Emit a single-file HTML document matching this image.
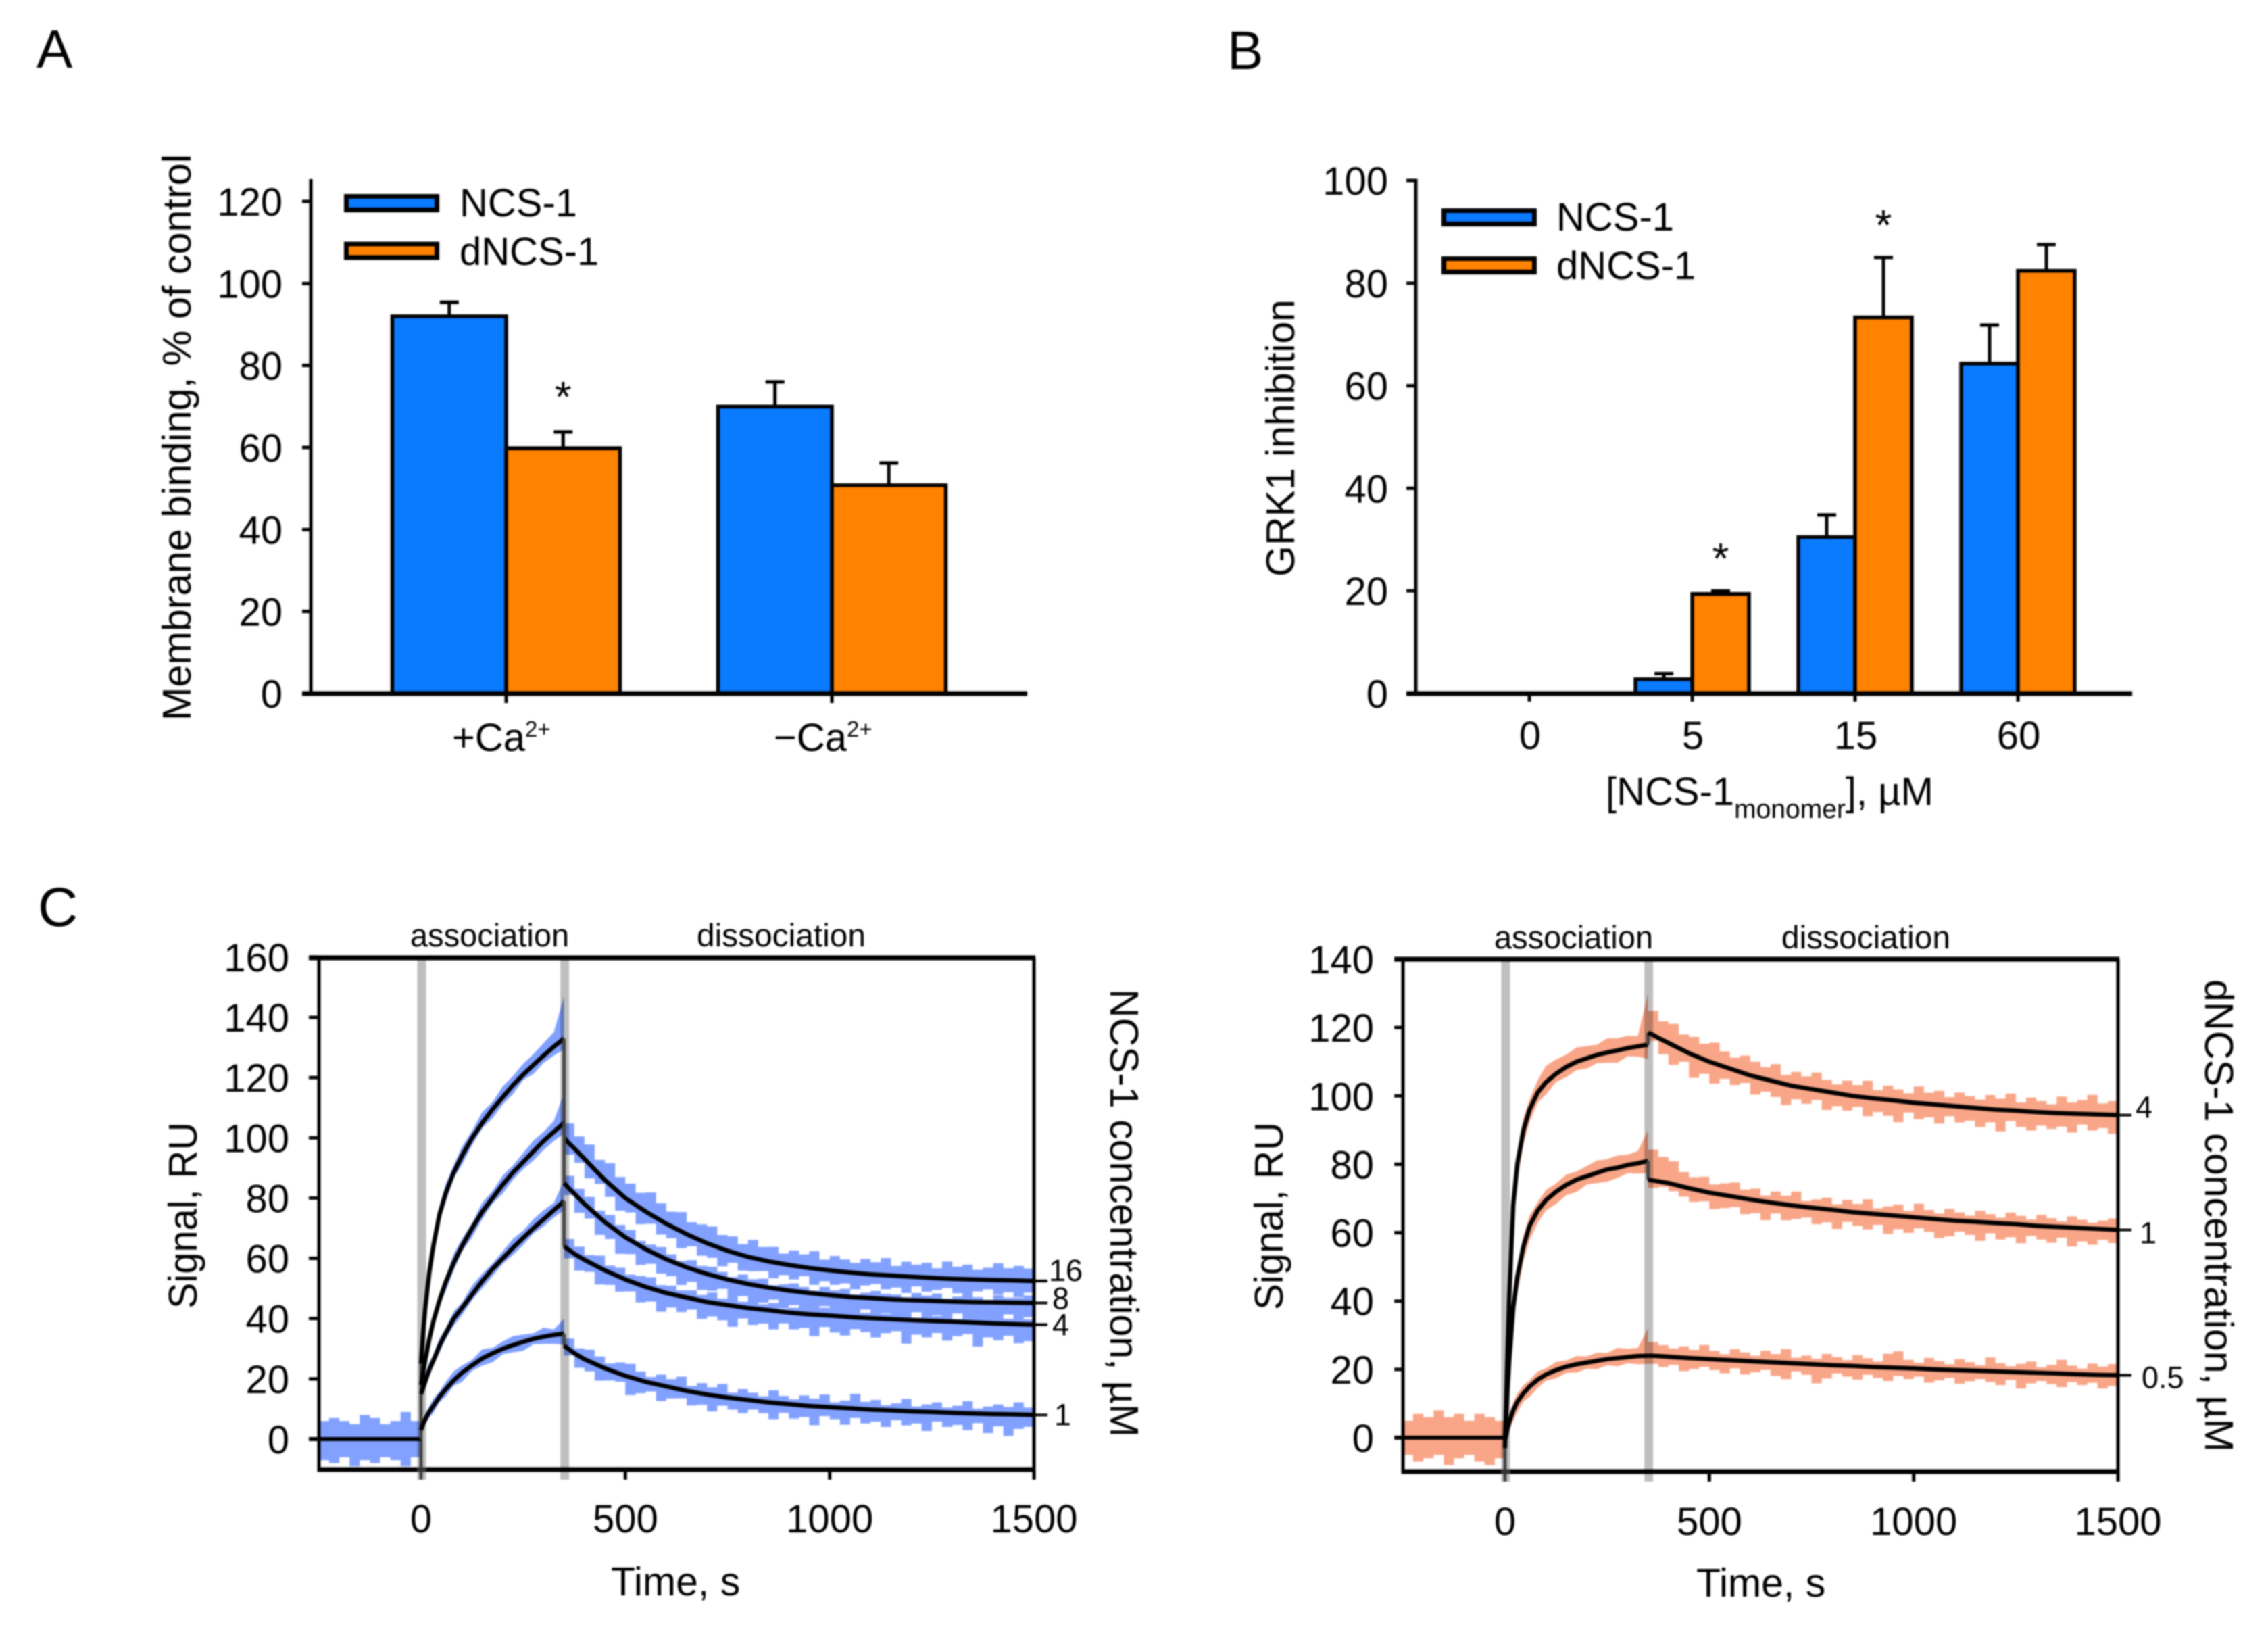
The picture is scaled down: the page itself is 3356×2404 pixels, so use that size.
<!DOCTYPE html>
<html lang="en">
<head>
<meta charset="utf-8">
<title>NCS-1 and dNCS-1 binding and inhibition</title>
<style>
html,body{margin:0;padding:0;background:#fff;}
svg{display:block;filter:blur(1px);}
text{font-family:"Liberation Sans",Arial,sans-serif;fill:#000;}
</style>
</head>
<body>
<svg id="figure" xmlns="http://www.w3.org/2000/svg" width="3356" height="2404" viewBox="0 0 3356 2404">
<rect width="3356" height="2404" fill="#fff"/>
<text x="54" y="100" font-size="80">A</text>
<text x="1816" y="102" font-size="80">B</text>
<text x="56" y="1370" font-size="82">C</text>

<text transform="translate(282,1066) rotate(-90)" font-size="59" textLength="838" lengthAdjust="spacingAndGlyphs">Membrane binding, % of control</text>
<text transform="translate(1915,853) rotate(-90)" font-size="59" textLength="410" lengthAdjust="spacingAndGlyphs">GRK1 inhibition</text>
<text x="2376" y="1191" font-size="58">[NCS-1<tspan font-size="39" dy="19">monomer</tspan><tspan dy="-19">], µM</tspan></text>

<text transform="translate(291,1936) rotate(-90)" font-size="59" textLength="276" lengthAdjust="spacingAndGlyphs">Signal, RU</text>
<text x="904" y="2360" font-size="59">Time, s</text>
<text transform="translate(1643,1463) rotate(90)" font-size="59" textLength="663" lengthAdjust="spacingAndGlyphs">NCS-1 concentration, µM</text>
<text x="607" y="1400" font-size="47">association</text>
<text x="1031" y="1400" font-size="47" textLength="250" lengthAdjust="spacingAndGlyphs">dissociation</text>

<text transform="translate(1898,1938) rotate(-90)" font-size="59" textLength="278" lengthAdjust="spacingAndGlyphs">Signal, RU</text>
<text x="2510" y="2362" font-size="59">Time, s</text>
<text transform="translate(3263,1449) rotate(90)" font-size="59" textLength="699" lengthAdjust="spacingAndGlyphs">dNCS-1 concentration, µM</text>
<text x="2211" y="1403" font-size="47">association</text>
<text x="2636" y="1403" font-size="47" textLength="250" lengthAdjust="spacingAndGlyphs">dissociation</text>
</svg>

<script>
// ---------- Panel A data ----------
const aCategories = ['+Ca', '−Ca'];
const aNcs = [92, 70];
const aNcsErr = [95.4, 76];
const aDncs = [59.8, 50.8];
const aDncsErr = [63.8, 56.2];
const aStars = [1, 0];
const aTicks = [0, 20, 40, 60, 80, 100, 120];

// ---------- Panel B data ----------
const bCategories = ['0', '5', '15', '60'];
const bNcs = [0, 2.8, 30.5, 64.3];
const bNcsErr = [0, 3.9, 34.8, 71.8];
const bDncs = [0, 19.4, 73.3, 82.4];
const bDncsErr = [0, 20, 85, 87.5];
const bStars = [0, 1, 1, 0];
const bTicks = [0, 20, 40, 60, 80, 100];

// ---------- Panel C shared axes ----------
const xTicksC = [0, 500, 1000, 1500];
const yTicksC1 = [0, 20, 40, 60, 80, 100, 120, 140, 160];
const yTicksC2 = [0, 20, 40, 60, 80, 100, 120, 140];
const phaseMarkers = [0, 350];
const baselineTimes = [-250, -225, -200, -175, -150, -125, -100, -75, -50, -25, 0];
const assocTimes = [0, 5, 10, 20, 30, 45, 60, 80, 100, 125, 150, 175, 200, 225, 250, 275, 300, 325, 350];
const dissTimes = [350, 360, 375, 400, 450, 500, 550, 600, 650, 700, 750, 800, 850, 900, 950, 1000, 1050, 1100, 1150, 1200, 1250, 1300, 1350, 1400, 1450, 1500];
const dissNoiseTimes = [350, 375, 400, 425, 450, 475, 500, 525, 550, 575, 600, 625, 650, 675, 700, 725, 750, 775, 800, 825, 850, 875, 900, 925, 950, 975, 1000, 1025, 1050, 1075, 1100, 1125, 1150, 1175, 1200, 1225, 1250, 1275, 1300, 1325, 1350, 1375, 1400, 1425, 1450, 1475, 1500];

// ---------- Panel C1 (NCS-1) fits, RU ----------
const c1Fit16Assoc = [25, 35, 43, 55, 64, 74.5, 81.5, 88.5, 94, 100, 105, 109.5, 113.5, 117.5, 121, 124.2, 127.3, 130.3, 133];
const c1Fit16Diss = [100, 98.5, 96.5, 93, 86, 80, 75.5, 71.5, 68, 65, 62.5, 60.5, 59, 57.8, 56.8, 56, 55.3, 54.7, 54.3, 53.9, 53.5, 53.2, 53, 52.8, 52.7, 52.5];
const c1Fit8Assoc = [18, 22, 26, 33, 39, 46, 52, 58.5, 64, 70, 75.5, 80, 84.5, 88.5, 92, 95.5, 99, 102, 105];
const c1Fit8Diss = [85, 83.5, 81.5, 78, 72, 67, 63, 59.7, 57, 54.8, 53, 51.5, 50.3, 49.3, 48.5, 47.8, 47.2, 46.8, 46.4, 46.1, 45.9, 45.7, 45.5, 45.4, 45.3, 45.2];
const c1Fit4Assoc = [15, 17, 19, 23, 26, 31, 35, 40, 43.5, 48, 52.5, 56.5, 60, 63.5, 66.8, 70, 73, 76, 79];
const c1Fit4Diss = [64, 63, 61.5, 59.5, 56, 53, 50.5, 48.5, 47, 45.5, 44.5, 43.5, 42.8, 42, 41.4, 41, 40.5, 40.1, 39.8, 39.5, 39.2, 39, 38.7, 38.4, 38.2, 38];
const c1Fit1Assoc = [3, 5, 6.5, 9, 11, 14, 16.5, 19.5, 22, 24.5, 26.8, 28.5, 30, 31.2, 32.3, 33.3, 34, 34.6, 35];
const c1Fit1Diss = [31, 30, 28.5, 26.5, 23.5, 21, 19, 17.5, 16, 14.8, 13.8, 13, 12.2, 11.6, 11, 10.6, 10.2, 9.8, 9.5, 9.2, 9, 8.7, 8.5, 8.3, 8.2, 8];

// ---------- Panel C1 raw-signal spread around each fit, RU ----------
const c1BaseHigh = [6, 7, 6, 5, 8, 7, 5, 6, 9, 6, 7];
const c1BaseLow = [-7, -8, -6, -9, -7, -8, -6, -7, -9, -6, -7];
const c1S16AssocHigh = [8, 6, 6, 5, 5, 4, 5, 4, 5, 4, 6, 4, 6, 5, 6, 6, 7, 8, 14];
const c1S16AssocLow = [-10, -6, -6, -5, -5, -4, -5, -3, -5, -4, -3, -5, -4, -5, -3, -5, -4, -5, -6];
const c1S16DissHigh = [6, 5, 6, 4, 7, 5, 6, 5, 8, 6, 5, 7, 5, 6, 7, 5, 6, 4, 7, 5, 6, 4, 6, 5, 7, 4, 6, 5, 4, 6, 5, 7, 4, 6, 5, 6, 4, 7, 5, 6, 4, 5, 7, 5, 6, 5, 6];
const c1S16DissLow = [-7, -6, -8, -6, -7, -9, -6, -8, -5, -7, -6, -8, -5, -7, -6, -8, -5, -7, -6, -5, -7, -5, -6, -4, -7, -5, -6, -5, -7, -5, -4, -6, -5, -7, -4, -6, -5, -4, -6, -7, -5, -4, -6, -5, -7, -5, -6];
const c1S8AssocHigh = [6, 5, 5, 5, 4, 4, 3, 5, 4, 3, 5, 4, 5, 4, 5, 6, 5, 6, 10];
const c1S8AssocLow = [-8, -5, -5, -4, -4, -3, -5, -4, -3, -5, -4, -3, -5, -4, -4, -5, -5, -5, -6];
const c1S8DissHigh = [3, 2, 3, 1, 3, 2, 3, 1, 2, 3, 2, 1, 3, 2, 3, 2, 1, 3, 2, 3, 1, 2, 3, 2, 1, 3, 2, 3, 1, 2, 3, 2, 2, 1, 3, 2, 3, 1, 2, 3, 2, 1, 3, 2, 2, 3, 2];
const c1S8DissLow = [-5, -8, -6, -9, -7, -10, -7, -9, -6, -8, -7, -9, -6, -8, -7, -5, -8, -6, -9, -7, -5, -8, -6, -7, -9, -5, -7, -8, -6, -5, -8, -6, -9, -7, -5, -8, -6, -7, -5, -8, -6, -7, -9, -5, -7, -6, -8];
const c1S4AssocHigh = [5, 4, 4, 4, 3, 4, 3, 4, 3, 5, 4, 3, 4, 5, 4, 5, 5, 4, 7];
const c1S4AssocLow = [-6, -4, -4, -4, -3, -4, -3, -4, -4, -3, -4, -4, -3, -4, -4, -3, -4, -4, -5];
const c1S4DissHigh = [3, 3, 2, 4, 2, 3, 2, 3, 4, 2, 3, 2, 3, 2, 4, 2, 3, 2, 3, 2, 3, 1, 2, 3, 2, 3, 2, 1, 3, 2, 3, 2, 3, 2, 1, 3, 2, 3, 1, 2, 3, 2, 3, 2, 3, 2, 3];
const c1S4DissLow = [-5, -7, -5, -8, -6, -7, -5, -8, -6, -9, -6, -7, -5, -8, -6, -7, -9, -5, -7, -6, -8, -5, -7, -6, -9, -5, -7, -8, -5, -6, -8, -6, -5, -10, -6, -7, -5, -8, -6, -5, -10, -6, -7, -5, -8, -7, -5];
const c1S1AssocHigh = [3, 3, 3, 3, 4, 3, 4, 5, 4, 3, 5, 3, 4, 5, 4, 3, 5, 3, 5];
const c1S1AssocLow = [-3, -3, -3, -3, -4, -3, -4, -3, -5, -3, -4, -5, -3, -4, -5, -3, -4, -5, -6];
const c1S1DissHigh = [3, 2, 4, 3, 2, 4, 5, 3, 2, 4, 3, 5, 2, 4, 3, 5, 2, 4, 3, 2, 5, 3, 2, 4, 3, 5, 2, 3, 6, 3, 4, 2, 3, 5, 2, 3, 4, 2, 3, 5, 2, 3, 4, 3, 5, 3, 4];
const c1S1DissLow = [-4, -6, -5, -7, -5, -4, -8, -6, -4, -7, -5, -4, -6, -5, -7, -4, -5, -6, -4, -5, -7, -4, -6, -5, -8, -4, -5, -7, -4, -6, -5, -7, -4, -6, -5, -8, -4, -6, -5, -7, -4, -8, -5, -9, -6, -5, -7];
const c1Labels = ['16', '8', '4', '1'];

// ---------- Panel C2 (dNCS-1) fits, RU ----------
const c2Fit4Assoc = [-3, 20, 40, 68, 80, 90, 96, 101, 104, 106.5, 108.5, 110, 111, 112, 112.7, 113.3, 114, 114.5, 115];
const c2Fit4Diss = [118.5, 118, 117, 115.5, 112.5, 110, 108, 106, 104.5, 103, 102, 101, 100, 99.3, 98.7, 98, 97.5, 97, 96.5, 96, 95.7, 95.3, 95, 94.8, 94.6, 94.4];
const c2Fit1Assoc = [0, 12, 22, 38, 47, 56, 62, 66.5, 69.5, 72, 74, 75.5, 76.5, 77.5, 78.5, 79, 79.8, 80.3, 81];
const c2Fit1Diss = [75.5, 75.3, 75, 74.5, 73, 71.7, 70.7, 69.7, 68.8, 68, 67.3, 66.7, 66, 65.5, 65, 64.5, 64, 63.5, 63.2, 62.8, 62.5, 62, 61.7, 61.4, 61.1, 60.8];
const c2Fit05Assoc = [-1, 2, 4.5, 8, 10.5, 13, 15, 17, 18.5, 19.8, 20.8, 21.5, 22, 22.5, 23, 23.3, 23.6, 23.9, 24];
const c2Fit05Diss = [24, 24, 23.9, 23.7, 23.3, 23, 22.7, 22.4, 22.1, 21.8, 21.5, 21.2, 21, 20.7, 20.5, 20.3, 20, 19.8, 19.6, 19.4, 19.2, 19, 18.8, 18.6, 18.4, 18.3];

// ---------- Panel C2 raw-signal spread around each fit, RU ----------
const c2BaseHigh = [5, 7, 6, 8, 6, 7, 5, 7, 6, 5, 4];
const c2BaseLow = [-5, -7, -6, -5, -8, -6, -5, -7, -8, -6, -5];
const c2S4AssocHigh = [3, 4, 5, 6, 6, 6, 5, 6, 8, 7, 6, 7, 6, 5, 7, 6, 6, 5, 15];
const c2S4AssocLow = [-4, -8, -10, -9, -8, -7, -6, -5, -6, -4, -5, -4, -5, -4, -5, -6, -4, -5, -7];
const c2S4DissHigh = [8, 6, 7, 5, 6, 5, 7, 5, 4, 6, 5, 4, 6, 3, 5, 4, 6, 4, 3, 5, 4, 6, 3, 5, 4, 3, 6, 4, 5, 3, 5, 4, 3, 5, 4, 6, 3, 5, 4, 3, 6, 4, 5, 7, 4, 5, 6];
const c2S4DissLow = [-3, -6, -8, -5, -9, -6, -8, -5, -6, -4, -7, -5, -6, -8, -5, -6, -4, -7, -5, -6, -4, -7, -5, -6, -8, -4, -6, -5, -7, -4, -6, -5, -7, -5, -8, -4, -6, -7, -5, -6, -5, -7, -4, -6, -5, -7, -5];
const c2S1AssocHigh = [3, 5, 6, 6, 5, 5, 5, 4, 5, 4, 5, 4, 5, 6, 5, 6, 5, 6, 9];
const c2S1AssocLow = [-3, -8, -9, -8, -8, -7, -7, -6, -5, -6, -5, -6, -4, -5, -6, -5, -4, -5, -6];
const c2S1DissHigh = [11, 9, 8, 5, 4, 5, 3, 4, 5, 3, 4, 2, 4, 3, 5, 2, 3, 4, 2, 4, 3, 5, 2, 3, 4, 2, 5, 3, 2, 4, 3, 2, 4, 3, 2, 4, 3, 2, 4, 3, 2, 4, 3, 2, 3, 4, 3];
const c2S1DissLow = [-3, -2, -3, -4, -5, -4, -6, -5, -4, -6, -5, -7, -4, -6, -5, -4, -6, -5, -7, -4, -5, -6, -4, -7, -5, -6, -4, -5, -7, -6, -4, -5, -7, -4, -6, -5, -7, -4, -5, -6, -4, -7, -5, -6, -4, -5, -6];
const c2S05AssocHigh = [2, 3, 4, 4, 4, 4, 3, 4, 3, 4, 3, 4, 3, 4, 3, 5, 4, 4, 8];
const c2S05AssocLow = [-2, -3, -4, -5, -5, -4, -5, -4, -3, -4, -3, -4, -3, -4, -3, -4, -3, -4, -4];
const c2S05DissHigh = [5, 4, 3, 4, 3, 5, 3, 2, 4, 3, 2, 4, 3, 5, 2, 3, 2, 4, 3, 2, 4, 3, 2, 5, 6, 3, 2, 4, 3, 2, 4, 3, 2, 5, 3, 2, 3, 4, 2, 3, 5, 3, 2, 4, 3, 4, 2];
const c2S05DissLow = [-3, -4, -3, -5, -4, -3, -4, -5, -3, -5, -4, -3, -5, -6, -3, -4, -7, -5, -3, -4, -5, -3, -4, -5, -3, -4, -3, -5, -4, -3, -5, -4, -3, -4, -5, -3, -6, -4, -3, -4, -5, -3, -4, -3, -5, -4, -3];
const c2Labels = ['4', '1', '0.5'];

// ---------- drawing ----------
const BLUE = '#0a7aff', ORANGE = '#ff8200';
const ASSOC_SPREAD = 0.6, DISS_SPREAD = 0.8;
const svg = document.getElementById('figure');
const NS = 'http://www.w3.org/2000/svg';
function mk(tag, attrs, text) {
  const el = document.createElementNS(NS, tag);
  for (const k in attrs) el.setAttribute(k, attrs[k]);
  if (text !== undefined) el.textContent = text;
  svg.appendChild(el);
  return el;
}
function line(x1, y1, x2, y2, w, color) {
  return mk('line', { x1: x1, y1: y1, x2: x2, y2: y2, stroke: color || '#000', 'stroke-width': w, 'stroke-linecap': 'butt' });
}

// Legend
function drawLegend(x, y1, y2, tx, b1, b2, key) {
  const r1 = mk('rect', { x: x, y: y1, width: 134, height: 20, fill: BLUE, stroke: '#000', 'stroke-width': 7 });
  
  
  const t1 = mk('text', { x: tx, y: b1, 'font-size': 58 }, 'NCS-1');
  
  
  const r2 = mk('rect', { x: x, y: y2, width: 134, height: 20, fill: ORANGE, stroke: '#000', 'stroke-width': 7 });
  
  
  const t2 = mk('text', { x: tx, y: b2, 'font-size': 58 }, 'dNCS-1');
  
  
}

function drawBar(x0, x1, yBase, yVal, yErr, fill, key) {
  const mid = (x0 + x1) / 2;
  const stem = line(mid, yVal, mid, yErr, 5);
  
  
  const cap = line(mid - 14, yErr, mid + 14, yErr, 5);
  
  
  const r = mk('rect', { x: x0, y: yVal, width: x1 - x0, height: yBase - yVal, fill: fill, stroke: '#000', 'stroke-width': 5.5 });
  
  
}
function drawStar(x, y, key) {
  const s = mk('text', { x: x, y: y, 'font-size': 64, 'text-anchor': 'middle' }, '*');
  
  
}

// ---- Panel A ----
const yA = v => 1026 - v * 6.067;
const aGroupX = i => 749 + i * 482;
const aBarWidth = 168.5;
aCategories.forEach((c, i) => {
  const cx = aGroupX(i);
  drawBar(cx - aBarWidth, cx, 1026, yA(aNcs[i]), yA(aNcsErr[i]), BLUE, 'a-ncs1-' + i);
  drawBar(cx, cx + aBarWidth, 1026, yA(aDncs[i]), yA(aDncsErr[i]), ORANGE, 'a-dncs1-' + i);
  if (aStars[i]) drawStar(cx + aBarWidth / 2, yA(aDncsErr[i]) - 30, 'a-' + i);
  const tick = line(cx, 1026, cx, 1040, 5);
  
  
  const lab = mk('text', { x: cx - 80 - i * 6, y: 1111, 'font-size': 58 }, c);
  
  
  const sup = document.createElementNS(NS, 'tspan');
  sup.setAttribute('font-size', '33');
  sup.setAttribute('dy', '-21');
  sup.textContent = '2+';
  
  
  lab.appendChild(sup);
});
const aAxisY = line(460, 265, 460, 1029, 5);


const aAxisX = line(447, 1026, 1520, 1026, 7);


aTicks.forEach(v => {
  const t = line(447, yA(v), 460, yA(v), 5);
  
  
  const l = mk('text', { x: 418, y: yA(v) + 21, 'font-size': 58, 'text-anchor': 'end' }, String(v));
  
  
});
drawLegend(512.5, 290.5, 361, 680, 320, 392, 'a');

// ---- Panel B ----
const yB = v => 1026 - v * 7.59;
const bGroupX = i => 2263 + i * 241;
const bBarWidth = 84;
bCategories.forEach((c, i) => {
  const cx = bGroupX(i);
  drawBar(cx - bBarWidth, cx, 1026, yB(bNcs[i]), yB(bNcsErr[i]), BLUE, 'b-ncs1-' + c);
  drawBar(cx, cx + bBarWidth, 1026, yB(bDncs[i]), yB(bDncsErr[i]), ORANGE, 'b-dncs1-' + c);
  if (bStars[i]) drawStar(cx + bBarWidth / 2, yB(bDncsErr[i]) - 26, 'b-' + c);
  const tick = line(cx, 1026, cx, 1038, 5);
  
  
  const lab = mk('text', { x: cx + 1, y: 1108, 'font-size': 58, 'text-anchor': 'middle' }, c);
  
  
});
const bAxisY = line(2095, 264.5, 2095, 1029, 5);


const bAxisX = line(2081, 1026, 3155, 1026, 7);


bTicks.forEach(v => {
  const t = line(2081, yB(v), 2095, yB(v), 5);
  
  
  const l = mk('text', { x: 2054, y: yB(v) + 21, 'font-size': 58, 'text-anchor': 'end' }, String(v));
  
  
});
drawLegend(2136.5, 311.5, 382.5, 2303, 341, 413, 'b');

// ---- Panel C helpers ----
function fitAt(times, vals, t) {
  for (let i = 1; i < times.length; i++) {
    if (t <= times[i]) {
      const f = (t - times[i - 1]) / (times[i] - times[i - 1]);
      return vals[i - 1] + f * (vals[i] - vals[i - 1]);
    }
  }
  return vals[vals.length - 1];
}
function bandPoints(xs, tops, bottoms, X, Y) {
  const up = xs.map((t, i) => X(t) + ',' + Y(tops[i]));
  const down = xs.map((t, i) => X(t) + ',' + Y(bottoms[i])).reverse();
  return up.concat(down).join(' ');
}
// Stair-stepped band: each sample is held until the next time point.
function stepBandPoints(xs, tops, bottoms, X, Y) {
  const up = [], down = [];
  xs.forEach((t, i) => {
    const next = i < xs.length - 1 ? xs[i + 1] : t;
    up.push(X(t) + ',' + Y(tops[i]), X(next) + ',' + Y(tops[i]));
    down.push(X(t) + ',' + Y(bottoms[i]), X(next) + ',' + Y(bottoms[i]));
  });
  return up.concat(down.reverse()).join(' ');
}
function polyPoints(xs, vals, X, Y) {
  return xs.map((t, i) => X(t) + ',' + Y(vals[i])).join(' ');
}

function drawSensorgram(cfg) {
  const X = cfg.X, Y = cfg.Y, key = cfg.key;
  // raw signal bands
  const bb = mk('polygon', {
    points: stepBandPoints(baselineTimes, cfg.baseHigh, cfg.baseLow, X, Y),
    fill: cfg.bandColor
  });
  
  
  cfg.series.forEach(s => {
    const last = assocTimes.length - 1;
    const aHigh = s.fitA.map((v, i) => v + s.aHigh[i] * (i === last ? 1 : ASSOC_SPREAD));
    const aLow = s.fitA.map((v, i) => v + s.aLow[i] * ASSOC_SPREAD);
    const pa = mk('polygon', { points: bandPoints(assocTimes, aHigh, aLow, X, Y), fill: cfg.bandColor });
    
    
    const dHigh = dissNoiseTimes.map((t, i) => fitAt(dissTimes, s.fitD, t) + s.dHigh[i] * DISS_SPREAD);
    const dLow = dissNoiseTimes.map((t, i) => fitAt(dissTimes, s.fitD, t) + s.dLow[i] * DISS_SPREAD);
    const pd = mk('polygon', { points: stepBandPoints(dissNoiseTimes, dHigh, dLow, X, Y), fill: cfg.bandColor });
    
    
  });
  // frame
  const top = line(cfg.tickLeft, cfg.top, cfg.right + 2, cfg.top, 7);
  
  
  const bottom = line(cfg.left - 2, cfg.bottom, cfg.right + 2, cfg.bottom, 7);
  
  
  const left = line(cfg.left, cfg.top, cfg.left, cfg.bottom + 3, 5);
  
  
  const right = line(cfg.right, cfg.top, cfg.right, cfg.bottom + 3, 5);
  
  
  // ticks
  cfg.yTicks.forEach(v => {
    const t = line(cfg.tickLeft, Y(v), cfg.left, Y(v), 5);
    
    
    const l = mk('text', { x: cfg.labelRight, y: Y(v) + 21, 'font-size': 58, 'text-anchor': 'end' }, String(v));
    
    
  });
  xTicksC.forEach(v => {
    const t = line(X(v), cfg.bottom, X(v), cfg.bottom + 15, 5);
    
    
    const l = mk('text', { x: X(v), y: cfg.xLabelY, 'font-size': 58, 'text-anchor': 'middle' }, String(v));
    
    
  });
  // phase markers
  phaseMarkers.forEach(t => {
    const m = mk('line', {
      x1: X(t) + 1, y1: cfg.top + 3, x2: X(t) + 1, y2: cfg.bottom + 15,
      stroke: '#bfbfbf', 'stroke-width': 13, style: 'mix-blend-mode:multiply'
    });
    
    
  });
  // zero tick through the first marker appears dark
  const dark0 = line(X(0), Y(0), X(0), cfg.bottom + 15, 5, '#444');
  
  
  const bottomAgain = line(X(0) - 6, cfg.bottom, X(0) + 8, cfg.bottom, 7, '#333');
  
  
  // fits
  const baseFit = line(cfg.tickLeft, Y(0), X(0), Y(0), 6);
  
  
  cfg.series.forEach((s, idx) => {
    const j0 = line(X(0), Y(0), X(0), Y(s.fitA[0]), 5, '#444');
    
    
    const fa = mk('polyline', { points: polyPoints(assocTimes, s.fitA, X, Y), fill: 'none', stroke: '#000', 'stroke-width': 6.5, 'stroke-linejoin': 'round' });
    
    
    const jump = line(X(350), Y(s.fitA[s.fitA.length - 1]), X(350), Y(s.fitD[0]), 5, '#444');
    
    
    const fd = mk('polyline', { points: polyPoints(dissTimes, s.fitD, X, Y), fill: 'none', stroke: '#000', 'stroke-width': 6.5, 'stroke-linejoin': 'round' });
    
    
    // concentration label
    const endY = Y(s.fitD[s.fitD.length - 1]);
    const lead = line(cfg.right, endY, cfg.right + 20, endY, 4);
    
    
    const lab = mk('text', { x: cfg.labelX[idx], y: endY + cfg.labelNudge[idx] + 16, 'font-size': 45 }, s.label);
    
    
  });
}

drawSensorgram({
  key: 'c1',
  X: t => 623 + t * 0.6047,
  Y: v => 2129 - v * 4.457,
  left: 472, right: 1530, top: 1417, bottom: 2174, tickLeft: 457,
  labelRight: 428, xLabelY: 2267,
  bandColor: '#82a1ff',
  yTicks: yTicksC1,
  baseHigh: c1BaseHigh, baseLow: c1BaseLow,
  labelX: [1552, 1557, 1557, 1560],
  labelNudge: [-16, -7, 0, -1],
  series: [
    { label: c1Labels[0], fitA: c1Fit16Assoc, fitD: c1Fit16Diss, aHigh: c1S16AssocHigh, aLow: c1S16AssocLow, dHigh: c1S16DissHigh, dLow: c1S16DissLow },
    { label: c1Labels[1], fitA: c1Fit8Assoc, fitD: c1Fit8Diss, aHigh: c1S8AssocHigh, aLow: c1S8AssocLow, dHigh: c1S8DissHigh, dLow: c1S8DissLow },
    { label: c1Labels[2], fitA: c1Fit4Assoc, fitD: c1Fit4Diss, aHigh: c1S4AssocHigh, aLow: c1S4AssocLow, dHigh: c1S4DissHigh, dLow: c1S4DissLow },
    { label: c1Labels[3], fitA: c1Fit1Assoc, fitD: c1Fit1Diss, aHigh: c1S1AssocHigh, aLow: c1S1AssocLow, dHigh: c1S1DissHigh, dLow: c1S1DissLow }
  ]
});

drawSensorgram({
  key: 'c2',
  X: t => 2227 + t * 0.6047,
  Y: v => 2127 - v * 5.057,
  left: 2076, right: 3134, top: 1419, bottom: 2177, tickLeft: 2063,
  labelRight: 2033, xLabelY: 2271,
  bandColor: '#f9a587',
  yTicks: yTicksC2,
  baseHigh: c2BaseHigh, baseLow: c2BaseLow,
  labelX: [3160, 3166, 3169],
  labelNudge: [-12, 4, 3],
  series: [
    { label: c2Labels[0], fitA: c2Fit4Assoc, fitD: c2Fit4Diss, aHigh: c2S4AssocHigh, aLow: c2S4AssocLow, dHigh: c2S4DissHigh, dLow: c2S4DissLow },
    { label: c2Labels[1], fitA: c2Fit1Assoc, fitD: c2Fit1Diss, aHigh: c2S1AssocHigh, aLow: c2S1AssocLow, dHigh: c2S1DissHigh, dLow: c2S1DissLow },
    { label: c2Labels[2], fitA: c2Fit05Assoc, fitD: c2Fit05Diss, aHigh: c2S05AssocHigh, aLow: c2S05AssocLow, dHigh: c2S05DissHigh, dLow: c2S05DissLow }
  ]
});
</script>
</body>
</html>
